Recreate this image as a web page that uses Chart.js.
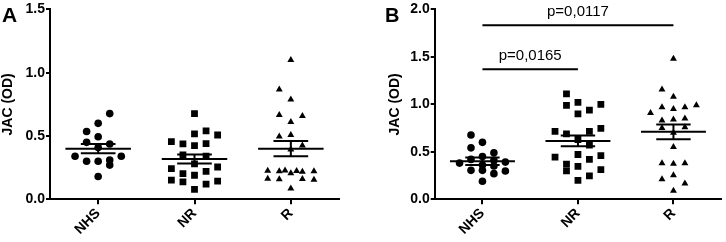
<!DOCTYPE html>
<html><head><meta charset="utf-8">
<script src="https://cdn.jsdelivr.net/npm/chart.js@4.4.1/dist/chart.umd.min.js"></script>
<style>
html,body{margin:0;padding:0;background:#fff;width:726px;height:242px;overflow:hidden}
.p{position:absolute;top:0;width:363px;height:242px}
#wa{left:0}#wb{left:363px}
</style></head><body>
<div class="p" id="wa"><canvas id="ca"></canvas></div>
<div class="p" id="wb"><canvas id="cb"></canvas></div>
<script>
const categories = ['NHS', 'NR', 'R'];
const yLabel = 'JAC (OD)';

// ---- Panel A ----
const aNHS    = [0.677, 0.60, 0.536, 0.494, 0.45, 0.437, 0.41, 0.34, 0.34, 0.30, 0.30, 0.31, 0.27, 0.18];
const aNHSCol = [1, 0, -1, 0, -1, 1, 0, -2, 2, -1, 0, 1, 1, 0];
const aNR     = [0.677, 0.516, 0.54, 0.508, 0.455, 0.437, 0.424, 0.44, 0.35, 0.34, 0.28, 0.242, 0.203, 0.138, 0.19, 0.221, 0.255, 0.151, 0.078, 0.12, 0.143];
const aNRCol  = [0, 0, 1, 2, -2, -1, 0, 1, -1, 1, 0, -2, -1, -1, 0, 1, 2, -2, 0, 1, 2];
const aR      = [1.10, 0.867, 0.789, 0.666, 0.658, 0.61, 0.508, 0.497, 0.424, 0.393, 0.226, 0.222, 0.228, 0.224, 0.218, 0.221, 0.205, 0.163, 0.158, 0.160, 0.155, 0.086];
const aRCol   = [0, -1, 0, -1, 1, 0, 0, -1, 1, 0, -2, -1, -0.5, 0.5, 1, 2, 0, -2, -1, 1, 2, 0];
const aMean   = [0.40, 0.318, 0.40];
const aSem    = [0.036, 0.036, 0.060];
const aTicks  = [0.0, 0.5, 1.0, 1.5];

// ---- Panel B ----
const bNHS    = [0.677, 0.60, 0.542, 0.49, 0.451, 0.42, 0.41, 0.392, 0.381, 0.36, 0.35, 0.305, 0.305, 0.298, 0.27, 0.19];
const bNHSCol = [-1, 0, -1, 1, 0, -1, 1, 2, -2, 0, 1, -1, 0, 2, 1, 0];
const bNR     = [1.11, 0.99, 1.02, 1.00, 0.90, 0.94, 0.715, 0.69, 0.715, 0.746, 0.63, 0.57, 0.444, 0.37, 0.30, 0.472, 0.42, 0.461, 0.347, 0.312, 0.246, 0.20];
const bNRCol  = [-1, -1, 0, 2, 0, 1, -2, -1, 1, 2, 0, 1, -2, -1, -1, 0, 1, 2, 0, 2, 1, 0];
const bR      = [1.48, 1.156, 1.08, 0.91, 0.97, 0.95, 0.97, 0.99, 0.83, 0.84, 0.85, 0.75, 0.76, 0.70, 0.55, 0.38, 0.375, 0.38, 0.21, 0.253, 0.167, 0.09];
const bRCol   = [0, -1, 0, -2, -1, 0, 1, 2, -1, 0, 1, -1, 1, 0, 0, -1, 0, 1, -1, 0, 1, 0];
const bMean   = [0.40, 0.615, 0.711];
const bSem    = [0.039, 0.057, 0.078];
const bTicks  = [0.0, 0.5, 1.0, 1.5, 2.0];
const sigFrom = [0, 0];
const sigTo   = [1, 2];
const sigY    = [1.37, 1.833];
const sigText = ['p=0,0165', 'p=0,0117'];

// ---- styles ----
const JIT = 0.12;
const FONT = 'Liberation Sans, Arial, sans-serif';
const BOLD = {family: FONT, weight: 'bold', size: 14};

function pts(vals, cols, idx) {
  return vals.map((v, k) => ({x: idx + cols[k] * JIT, y: v}));
}
function ds(vals, cols, idx, style, r) {
  return {data: pts(vals, cols, idx), pointStyle: style, pointRadius: r, pointHoverRadius: r,
    pointBackgroundColor: '#000', pointBorderColor: '#000', pointBorderWidth: 0, showLine: false};
}

const overlay = {
  id: 'overlay',
  afterDatasetsDraw(chart, args, o) {
    const {ctx, scales: {x, y}} = chart;
    const L = (x1, y1, x2, y2) => { ctx.beginPath(); ctx.moveTo(x1, y1); ctx.lineTo(x2, y2); ctx.stroke(); };
    ctx.save();
    ctx.strokeStyle = '#000'; ctx.lineWidth = 2;
    o.mean.forEach((m, i) => {
      const cx = x.getPixelForValue(i);
      const mh = x.getPixelForValue(i + 0.34) - cx;
      const sh = x.getPixelForValue(i + 0.18) - cx;
      const ym = y.getPixelForValue(m), yu = y.getPixelForValue(m + o.sem[i]), yl = y.getPixelForValue(m - o.sem[i]);
      L(cx - mh, ym, cx + mh, ym);
      L(cx - sh, yu, cx + sh, yu);
      L(cx - sh, yl, cx + sh, yl);
      L(cx, yu, cx, yl);
    });
    if (o.sig) {
      ctx.fillStyle = '#000';
      ctx.font = '15px ' + FONT;
      ctx.textAlign = 'center'; ctx.textBaseline = 'alphabetic';
      o.sig.from.forEach((f, i) => {
        const x1 = x.getPixelForValue(f), x2 = x.getPixelForValue(o.sig.to[i]);
        const yy = y.getPixelForValue(o.sig.y[i]);
        L(x1, yy, x2, yy);
        ctx.fillText(o.sig.text[i], (x1 + x2) / 2, yy - 9);
      });
    }
    ctx.font = 'bold ' + o.letterSize + 'px ' + FONT;
    ctx.textAlign = 'left'; ctx.textBaseline = 'alphabetic'; ctx.fillStyle = '#000';
    ctx.fillText(o.letter, o.letterX, o.letterY);
    ctx.restore();
  }
};

function makeChart(id, sets, mean, sem, ticks, ymax, pad, yWidth, letter, letterX, letterSize, sig) {
  return new Chart(document.getElementById(id), {
    type: 'scatter',
    data: {datasets: sets},
    plugins: [overlay],
    options: {
      responsive: true, maintainAspectRatio: false, animation: false,
      layout: {padding: pad},
      plugins: {legend: {display: false}, tooltip: {enabled: false},
        overlay: {mean: mean, sem: sem, sig: sig, letter: letter, letterX: letterX, letterY: 22, letterSize: letterSize}},
      scales: {
        x: {type: 'linear', min: -0.5, max: 2.5,
          afterBuildTicks(s) { s.ticks = categories.map((c, i) => ({value: i})); },
          afterFit(s) { s.height = 42.7; },
          ticks: {callback: v => categories[v], font: BOLD, color: '#000', minRotation: 45, maxRotation: 45, autoSkip: false, padding: 1},
          grid: {drawOnChartArea: false, drawTicks: true, tickLength: 5, color: '#000', lineWidth: 2},
          border: {display: true, color: '#000', width: 2}},
        y: {type: 'linear', min: 0, max: ymax,
          afterBuildTicks(s) { s.ticks = ticks.map(v => ({value: v})); },
          afterFit(s) { s.width = yWidth; },
          ticks: {callback: v => v.toFixed(1), font: BOLD, color: '#000', padding: 1},
          grid: {drawOnChartArea: false, drawTicks: true, tickLength: 4, color: '#000', lineWidth: 2},
          border: {display: true, color: '#000', width: 2},
          title: {display: true, text: yLabel, font: BOLD, color: '#000', padding: {top: 0, bottom: 0}}}
      }
    }
  });
}

makeChart('ca',
  [ds(aNHS, aNHSCol, 0, 'circle', 3.8), ds(aNR, aNRCol, 1, 'rect', 4.8), ds(aR, aRCol, 2, 'triangle', 4)],
  aMean, aSem, aTicks, 1.5, {left: 0, right: 24, top: 7, bottom: 0}, 50, 'A', 2, 21, null);

makeChart('cb',
  [ds(bNHS, bNHSCol, 0, 'circle', 3.8), ds(bNR, bNRCol, 1, 'rect', 4.8), ds(bR, bRCol, 2, 'triangle', 4)],
  bMean, bSem, bTicks, 2.0, {left: 24, right: 1, top: 7, bottom: 0}, 47.7, 'B', 22, 20,
  {from: sigFrom, to: sigTo, y: sigY, text: sigText});
</script>
</body></html>
